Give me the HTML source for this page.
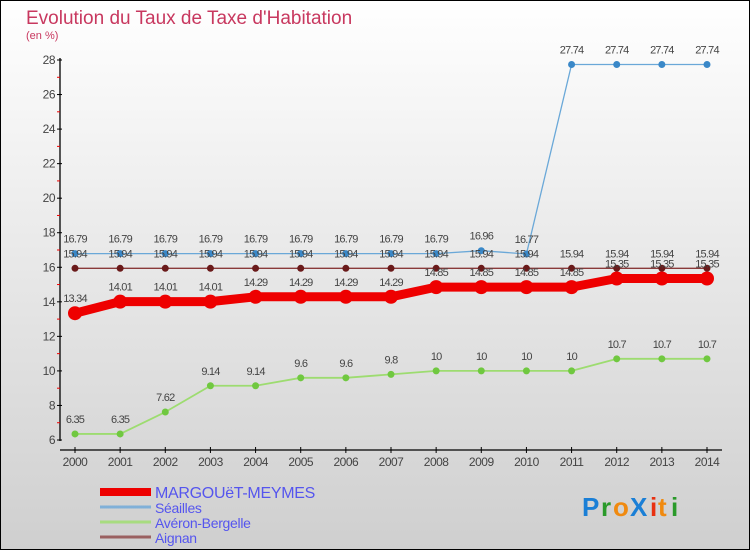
<!DOCTYPE html>
<html><head><meta charset="utf-8"><style>
html,body{margin:0;padding:0}
body{width:750px;height:550px;overflow:hidden;font-family:"Liberation Sans",sans-serif}
svg{display:block}
text{font-family:"Liberation Sans",sans-serif}
</style></head><body>
<svg id="chart" width="750" height="550">
<defs><linearGradient id="bg" x1="0" y1="0" x2="0" y2="1"><stop offset="0" stop-color="#ffffff"/><stop offset="1" stop-color="#cfcfcf"/></linearGradient></defs>
<rect x="0.5" y="0.5" width="749" height="549" fill="url(#bg)" stroke="#000"/>
<text x="26" y="24" font-size="19" fill="#c8385f">Evolution du Taux de Taxe d'Habitation</text>
<text x="26" y="39" font-size="11" fill="#c8385f">(en %)</text>
<g id="axes"></g>
<g id="series"></g>
<g id="legend"></g>
<g font-size="26" font-weight="bold" font-family="Liberation Sans">
<text x="582" y="516" fill="#1a7fd6">P</text><text x="601" y="516" fill="#2a9a2a">r</text><text x="613" y="516" fill="#f08a10">o</text><text x="630" y="516" fill="#1a7fd6">X</text><text x="650" y="516" fill="#e83010">i</text><text x="658" y="516" fill="#f08a10">t</text><text x="671" y="516" fill="#2a9a2a">i</text>
</g>
</svg>
<script>
const years=[2000,2001,2002,2003,2004,2005,2006,2007,2008,2009,2010,2011,2012,2013,2014];
const yTicks=[6,8,10,12,14,16,18,20,22,24,26,28];
const margouet=[13.34,14.01,14.01,14.01,14.29,14.29,14.29,14.29,14.85,14.85,14.85,14.85,15.35,15.35,15.35];
const seailles=[16.79,16.79,16.79,16.79,16.79,16.79,16.79,16.79,16.79,16.96,16.77,27.74,27.74,27.74,27.74];
const averon=[6.35,6.35,7.62,9.14,9.14,9.6,9.6,9.8,10,10,10,10,10.7,10.7,10.7];
const aignan=[15.94,15.94,15.94,15.94,15.94,15.94,15.94,15.94,15.94,15.94,15.94,15.94,15.94,15.94,15.94];
const NS='http://www.w3.org/2000/svg';
const xS=i=>75+i*(707-75)/(years.length-1);
const yS=v=>440-(v-6)*(380/22);
function mk(tag,attrs,parent){const e=document.createElementNS(NS,tag);for(const k in attrs)e.setAttribute(k,attrs[k]);parent.appendChild(e);return e;}
const axes=document.getElementById('axes');
let yl=mk('line',{x1:60,y1:58,x2:60,y2:441,stroke:'#000','stroke-width':1.3},axes);


yTicks.forEach(t=>{
  const y=yS(t);
  mk('line',{x1:57,y1:y,x2:62,y2:y,stroke:'#000'},axes);
  if(t<28) mk('line',{x1:57,y1:y-17.27,x2:60,y2:y-17.27,stroke:'#e00'},axes);
  const tx=mk('text',{x:55,y:y+4,'font-size':12,fill:'#444','text-anchor':'end','letter-spacing':'-0.5'},axes);
  tx.textContent=t;
  
  
});
let xl=mk('line',{x1:60,y1:450,x2:722,y2:450,stroke:'#000','stroke-width':1.3},axes);


years.forEach((yr,i)=>{
  const x=xS(i);
  mk('line',{x1:x,y1:447,x2:x,y2:453,stroke:'#000'},axes);
  const tx=mk('text',{x:x,y:466,'font-size':12,fill:'#444','text-anchor':'middle','letter-spacing':'-0.5'},axes);
  tx.textContent=yr;
  
  
});
const seriesG=document.getElementById('series');
const defs=[
 {name:'seailles',data:seailles,color:'#6aa8d8',dot:'#3a88c8',w:1.3,r:3.5},
 {name:'averon-bergelle',data:averon,color:'#9ddc70',dot:'#70c840',w:1.8,r:3.5},
 {name:'aignan',data:aignan,color:'#8a3a3a',dot:'#6a1a1a',w:1.3,r:3.5},
 {name:'margouet-meymes',data:margouet,color:'#ee0000',dot:'#ee0000',w:9,r:7}
];
defs.forEach(s=>{
  const g=mk('g',{},seriesG);
  
  
  const pts=s.data.map((v,i)=>xS(i)+','+yS(v)).join(' ');
  const pl=mk('polyline',{points:pts,fill:'none',stroke:s.color,'stroke-width':s.w,'stroke-linejoin':'round'},g);
  
  
  s.data.forEach((v,i)=>{
    const c=mk('circle',{cx:xS(i),cy:yS(v),r:s.r,fill:s.dot},g);
    
    
    const t=mk('text',{x:xS(i),y:yS(v)-11,'font-size':11,fill:'#444','text-anchor':'middle','letter-spacing':'-0.8'},g);
    t.textContent=v;
    
    
  });
});
const lg=document.getElementById('legend');
const legendItems=[['MARGOUëT-MEYMES','#ee0000',8,499,16],['Séailles','#80b0d8',3,514,14],['Avéron-Bergelle','#a8dc80',3,529,14],['Aignan','#9a6060',3,544,14]];
legendItems.forEach(l=>{
  const g=mk('g',{},lg);
  
  
  mk('line',{x1:100,y1:l[3]-7,x2:151,y2:l[3]-7,stroke:l[1],'stroke-width':l[2]},g);
  const t=mk('text',{x:155,y:l[3]-1,'font-size':l[4],fill:'#5555ee','letter-spacing':'-0.3'},g);
  t.textContent=l[0];
});
</script>
</body></html>
